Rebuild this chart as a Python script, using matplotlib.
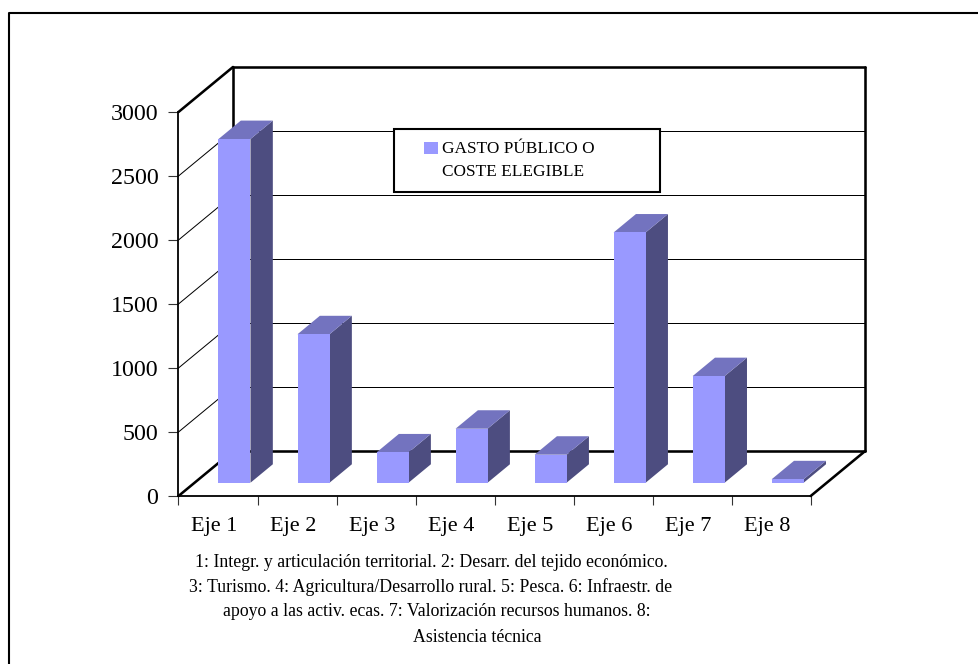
import matplotlib
matplotlib.use("Agg")
import matplotlib.pyplot as plt
from matplotlib.lines import Line2D
from matplotlib.patches import Polygon, Rectangle
from matplotlib.legend_handler import HandlerPatch

categories = ["Eje 1", "Eje 2", "Eje 3", "Eje 4", "Eje 5", "Eje 6", "Eje 7", "Eje 8"]
values = [2685, 1160, 237, 422, 219, 1955, 833, 27]
y_ticks = [0, 500, 1000, 1500, 2000, 2500, 3000]
series_label = "GASTO PÚBLICO O\nCOSTE ELEGIBLE"
note_lines = [
    "1: Integr. y articulación territorial. 2: Desarr. del tejido económico.",
    "3: Turismo. 4: Agricultura/Desarrollo rural. 5: Pesca. 6: Infraestr. de",
    "apoyo a las activ. ecas. 7: Valorización recursos humanos. 8:",
    "Asistencia técnica",
]

W, H = 979, 664
plt.rcParams["font.family"] = ["Liberation Serif", "DejaVu Serif"]
fig = plt.figure(figsize=(W / 100, H / 100), dpi=100)
fig.patch.set_facecolor("white")

# outer frame: left and top edges only
fig.add_artist(Line2D([9 / W, 9 / W, 1], [0, 1 - 13 / H, 1 - 13 / H],
                      transform=fig.transFigure, color="black", lw=1.5))

# front plane of the 3D box
L, R, B, T = 178.5, 810.7, 496, 112
ax = fig.add_axes([L / W, 1 - B / H, (R - L) / W, (B - T) / H])
ax.set_xlim(0, len(categories))
ax.set_ylim(0, 3000)
ax.patch.set_alpha(0)
for s in ("top", "right"):
    ax.spines[s].set_visible(False)
for s in ("left", "bottom"):
    ax.spines[s].set_linewidth(1.3)

# depth vector in data units
DX = 54.5 / ((R - L) / len(categories))
DY = 45 / ((B - T) / 3000)
XMAX, YMAX = len(categories), 3000

# walls, floor
wall_kw = dict(color="black", lw=1.85, solid_capstyle="round", clip_on=False, zorder=2)
ax.plot([0, DX], [YMAX, YMAX + DY], **wall_kw)
ax.plot([DX, XMAX + DX], [YMAX + DY, YMAX + DY], **wall_kw)
ax.plot([DX, DX], [DY, YMAX + DY], **wall_kw)
ax.plot([XMAX + DX, XMAX + DX], [DY, YMAX + DY], **wall_kw)
ax.plot([0, DX], [0, DY], **wall_kw)
ax.plot([DX, XMAX + DX], [DY, DY], **wall_kw)
ax.plot([XMAX, XMAX + DX], [0, DY], **wall_kw)

# gridlines
for v in y_ticks[1:-1]:
    ax.plot([0, DX], [v, v + DY], color="black", lw=0.72, clip_on=False, zorder=1)
    ax.plot([DX, XMAX + DX], [v + DY, v + DY], color="black", lw=0.72, clip_on=False, zorder=1)

# bars
FRONT, SIDE, TOP = "#9999FF", "#4D4D80", "#7373BF"
D0, D1 = 0.295, 0.705
width = 0.405
for i, v in enumerate(values):
    x0 = i + 0.505 - width / 2 + D0 * DX
    x1 = x0 + width
    y0 = D0 * DY
    ddx, ddy = (D1 - D0) * DX, (D1 - D0) * DY
    ax.add_patch(Polygon([(x1, y0), (x1 + ddx, y0 + ddy), (x1 + ddx, y0 + ddy + v), (x1, y0 + v)],
                         fc=SIDE, ec="none", clip_on=False, zorder=3))
    ax.add_patch(Polygon([(x0, y0 + v), (x1, y0 + v), (x1 + ddx, y0 + v + ddy), (x0 + ddx, y0 + v + ddy)],
                         fc=TOP, ec="none", clip_on=False, zorder=3))
    ax.bar(x0, v, width=width, bottom=y0, align="edge", color=FRONT, clip_on=False, zorder=3)

# axes
ax.set_yticks(y_ticks)
ax.set_xticks(range(len(categories) + 1))
ax.set_xticklabels([])
ax.set_xticks([i + 0.45 for i in range(len(categories))], minor=True)
ax.set_xticklabels(categories, minor=True, fontsize=16)
ax.tick_params(axis="x", which="minor", length=0, pad=15)
ax.tick_params(axis="x", which="major", length=6.5, width=0.8, color="#333333")
ax.tick_params(axis="y", length=7, width=0.8, labelsize=17.3, pad=7.4, color="#333333")

# legend
def swatch(legend, orig_handle, xdescent, ydescent, width, height, fontsize):
    return Rectangle((width - 10, 9.4), 10, 8.4)

proxy = Rectangle((0, 0), 1, 1, fc=FRONT, ec="none")
leg = ax.legend([proxy], [series_label],
                handler_map={Rectangle: HandlerPatch(patch_func=swatch)},
                loc="upper left", mode="expand",
                bbox_to_anchor=(394 / W, 1 - 129 / H, 266 / W, 0), bbox_transform=fig.transFigure,
                borderaxespad=0, borderpad=0.72, handlelength=1.82, handletextpad=0.27,
                fontsize=12.4, labelspacing=0, fancybox=False, framealpha=1, edgecolor="black")
leg.get_frame().set_linewidth(1.5)
leg.set_zorder(5)
for t in leg.get_texts():
    t.set_linespacing(1.55)

# note
note_x = [431, 431, 437, 477]
note_y = [567, 592, 616, 642]
for s, x, y in zip(note_lines, note_x, note_y):
    fig.text(x / W, 1 - y / H, s, ha="center", va="baseline", fontsize=12.8)

fig.savefig("out.png", dpi=100)
